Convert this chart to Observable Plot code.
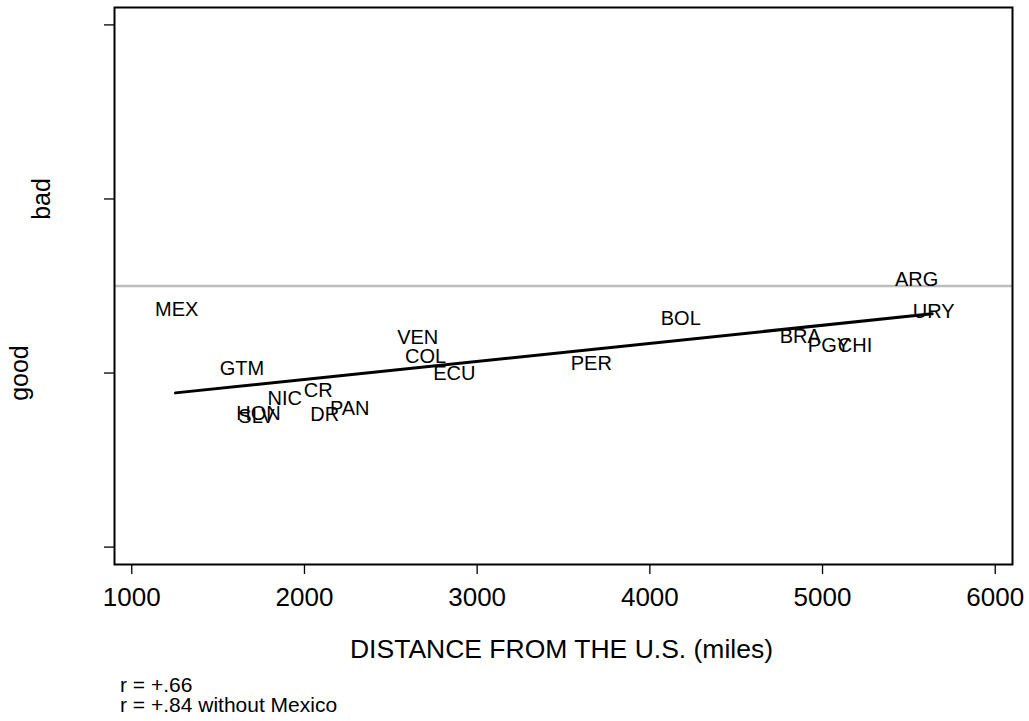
<!DOCTYPE html>
<html>
<head>
<meta charset="utf-8">
<script src="https://cdn.jsdelivr.net/npm/d3@7"></script>
<script src="https://cdn.jsdelivr.net/npm/@observablehq/plot@0.6"></script>
<style>
  html, body { margin: 0; padding: 0; background: #fff; }
  #chart svg { display: block; }
  #caption { font-family: "Liberation Sans", Arial, sans-serif; font-size: 21px; line-height: 20px; color: #000; margin-left: 120px; }
</style>
</head>
<body>
<div id="chart"></div>
<div id="caption"><div>r = +.66</div><div>r = +.84 without Mexico</div></div>
<script>
const countries = ["MEX","GTM","HON","SLV","NIC","CR","DR","PAN","VEN","COL","ECU","PER","BOL","BRA","PGY","CHI","ARG","URY"];
const distance  = [1260, 1638, 1734, 1722, 1886, 2080, 2117, 2262, 2656, 2701, 2868, 3661, 4179, 4871, 5037, 5188, 5545, 5644];
const score     = [1.364, 1.026, 0.765, 0.749, 0.852, 0.900, 0.761, 0.795, 1.201, 1.093, 0.998, 1.055, 1.314, 1.209, 1.156, 1.156, 1.534, 1.353];

const fitX = [1253, 5635];
const fitY = [0.886, 1.340];

const refLine = [1.5];

const xTicks = [1000, 2000, 3000, 4000, 5000, 6000];
const yTicks = [0, 1, 2, 3];
const yLabelValues = [1, 2];
const yLabelTexts = ["good", "bad"];

const points = countries.map((c, i) => ({name: c, x: distance[i], y: score[i]}));
const fit = fitX.map((x, i) => ({x, y: fitY[i]}));
const yLabels = yLabelValues.map((v, i) => ({v, t: yLabelTexts[i]}));

const font = "Liberation Sans, Arial, Helvetica, sans-serif";

const chart = Plot.plot({
  width: 1029,
  height: 675,
  marginLeft: 114,
  marginRight: 17,
  marginTop: 7,
  marginBottom: 111,
  style: {fontFamily: font, background: "#fff", color: "#000"},
  x: {domain: [900, 6100]},
  y: {domain: [-0.1, 3.1]},
  marks: [
    Plot.ruleY(refLine, {stroke: "#bdbdbd", strokeWidth: 2.5}),
    Plot.line(fit, {x: "x", y: "y", stroke: "#000", strokeWidth: 3}),
    Plot.text(points, {x: "x", y: "y", text: "name", fontSize: 20, fill: "#000"}),
    Plot.frame({stroke: "#000", strokeWidth: 2}),
    Plot.axisX({ticks: xTicks, tickSize: 10, tickPadding: 13, fontSize: 26, tickFormat: d => String(d), label: null, stroke: "#000", strokeWidth: 1.3}),
    Plot.axisY({ticks: yTicks, tickSize: 10, tickFormat: () => "", label: null, stroke: "#000", strokeWidth: 1.3}),
    Plot.text(yLabels.filter(d => d.t === "bad"), {y: "v", text: "t", frameAnchor: "left", textAnchor: "middle", rotate: -90, lineAnchor: "bottom", dx: -65, fontSize: 25, fill: "#000"}),
    Plot.text(yLabels.filter(d => d.t === "good"), {y: "v", text: "t", frameAnchor: "left", textAnchor: "middle", rotate: -90, lineAnchor: "bottom", dx: -87, fontSize: 25, fill: "#000"}),
    Plot.text(["DISTANCE FROM THE U.S. (miles)"], {frameAnchor: "bottom", lineAnchor: "bottom", dy: 93, dx: -2, fontSize: 26.5, fill: "#000"})
  ]
});
document.getElementById("chart").appendChild(chart);
</script>
</body>
</html>
